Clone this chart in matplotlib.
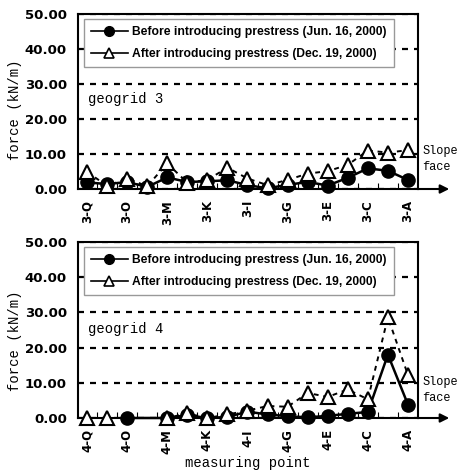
import numpy as np
import matplotlib.pyplot as plt
from matplotlib.lines import Line2D

# measuring points, from the far end to the slope face
points = ['Q', 'P', 'O', 'N', 'M', 'L', 'K', 'J', 'I', 'H', 'G', 'F', 'E', 'D', 'C', 'B', 'A']

# tensile force (kN/m), geogrid 3
g3_before = [1.9, 1.4, 2.0, 0.6, 3.3, 2.0, 2.2, 2.5, 1.1, 0.2, 1.2, 2.0, 1.0, 3.2, 5.9, 5.2, 2.6]
g3_after = [4.9, 0.9, 3.0, 0.8, 7.3, 1.8, 2.6, 6.1, 3.0, 1.1, 2.6, 4.4, 5.1, 6.9, 11.0, 10.4, 11.1]

# tensile force (kN/m), geogrid 4 (None = no reading)
g4_before = [None, None, 0.0, None, 0.0, 0.8, 0.0, 0.3, 1.8, 1.0, 0.5, 0.2, 0.6, 1.2, 1.7, 18.0, 3.8]
g4_after = [0.0, 0.0, None, None, 0.0, 1.3, 0.0, 1.0, 2.1, 3.4, 3.2, 7.1, 6.0, 8.1, 5.3, 28.6, 12.2]

yticks = [0, 10, 20, 30, 40, 50]
labels = ['Before introducing prestress (Jun. 16, 2000)',
          'After introducing prestress (Dec. 19, 2000)']

mono = ['Liberation Mono', 'DejaVu Sans Mono']
narrow = ['Liberation Sans Narrow', 'Liberation Sans', 'DejaVu Sans']


def draw(ax, before, after, prefix):
    x = np.arange(len(points))
    b = np.array([np.nan if v is None else v for v in before])
    a = np.array([np.nan if v is None else v for v in after])
    mb = ~np.isnan(b)
    ma = ~np.isnan(a)
    ax.plot(x[mb], b[mb], color='black', lw=1.8, marker='o', ms=9.5, zorder=3, clip_on=False)
    ax.plot(x[ma], a[ma], color='black', lw=1.4, ls=(0, (2.5, 2.5)), marker='^', ms=9.5,
            mfc='white', mec='black', mew=1.5, zorder=4, clip_on=False)

    ax.set_xlim(-0.45, 16.5)
    ax.set_ylim(0, 50)
    ax.set_yticks(yticks)
    ax.set_yticklabels([f'{v:.2f}' for v in yticks], fontweight='bold', fontsize=9.5,
                       family='DejaVu Sans')
    ax.tick_params(axis='y', length=0, pad=8)
    ax.grid(axis='y', color='black', lw=1.6, ls=(0, (2.7, 2.7)))
    ax.set_axisbelow(True)

    ax.set_xticks(x[::2])
    ax.set_xticklabels([f'{prefix}-{p}' for p in points[::2]], rotation=90,
                       fontweight='bold', fontsize=8.5, family='DejaVu Sans')
    ax.set_xticks(x[:-1] + 0.5, minor=True)
    ax.tick_params(axis='x', which='major', length=0, pad=8)
    ax.tick_params(axis='x', which='minor', direction='in', length=4, width=0.8)

    for s in ax.spines.values():
        s.set_linewidth(1.5)
    ax.annotate('', xy=(1.1, 0), xytext=(0.99, 0), xycoords='axes fraction',
                arrowprops=dict(arrowstyle='-|>', color='black', lw=1.5, mutation_scale=13),
                annotation_clip=False)

    ax.set_ylabel('force (kN/m)', family=mono, fontsize=10)

    handles = [Line2D([], [], color='black', lw=1.2, marker='o', ms=7),
               Line2D([], [], color='black', lw=1.2, marker='^', ms=7, mfc='white', mew=1.2)]
    leg = ax.legend(handles, labels, loc='upper left', bbox_to_anchor=(0.018, 0.971),
                    borderaxespad=0, fancybox=False, framealpha=1, edgecolor='#999999',
                    prop={'family': narrow, 'size': 8.7, 'weight': 'bold'},
                    handlelength=3, handletextpad=0.4, labelspacing=0.8, borderpad=0.6)
    leg.get_frame().set_linewidth(1.0)


fig = plt.figure(figsize=(4.61, 4.70), dpi=100)
ax1 = fig.add_axes([78 / 461, 1 - 189 / 470, 340 / 461, 175 / 470])
ax2 = fig.add_axes([78 / 461, 1 - 418 / 470, 340 / 461, 176 / 470])

draw(ax1, g3_before, g3_after, '3')
draw(ax2, g4_before, g4_after, '4')

ax1.yaxis.set_label_coords(-0.165, 0.45)
ax2.yaxis.set_label_coords(-0.165, 0.44)

ax1.text(0.03, 0.514, 'geogrid 3', transform=ax1.transAxes, family=mono, fontsize=10, va='center')
ax2.text(0.03, 0.506, 'geogrid 4', transform=ax2.transAxes, family=mono, fontsize=10, va='center')

ax1.text(1.012, 0.17, 'Slope\nface', transform=ax1.transAxes, family=mono, fontsize=8.6,
         va='center', ha='left', linespacing=1.45)
ax2.text(1.012, 0.16, 'Slope\nface', transform=ax2.transAxes, family=mono, fontsize=8.6,
         va='center', ha='left', linespacing=1.45)

fig.text(248 / 461, 1 - 463 / 470, 'measuring point', family=mono, fontsize=10,
         ha='center', va='center')

fig.savefig('out.png', dpi=100, facecolor='white')
